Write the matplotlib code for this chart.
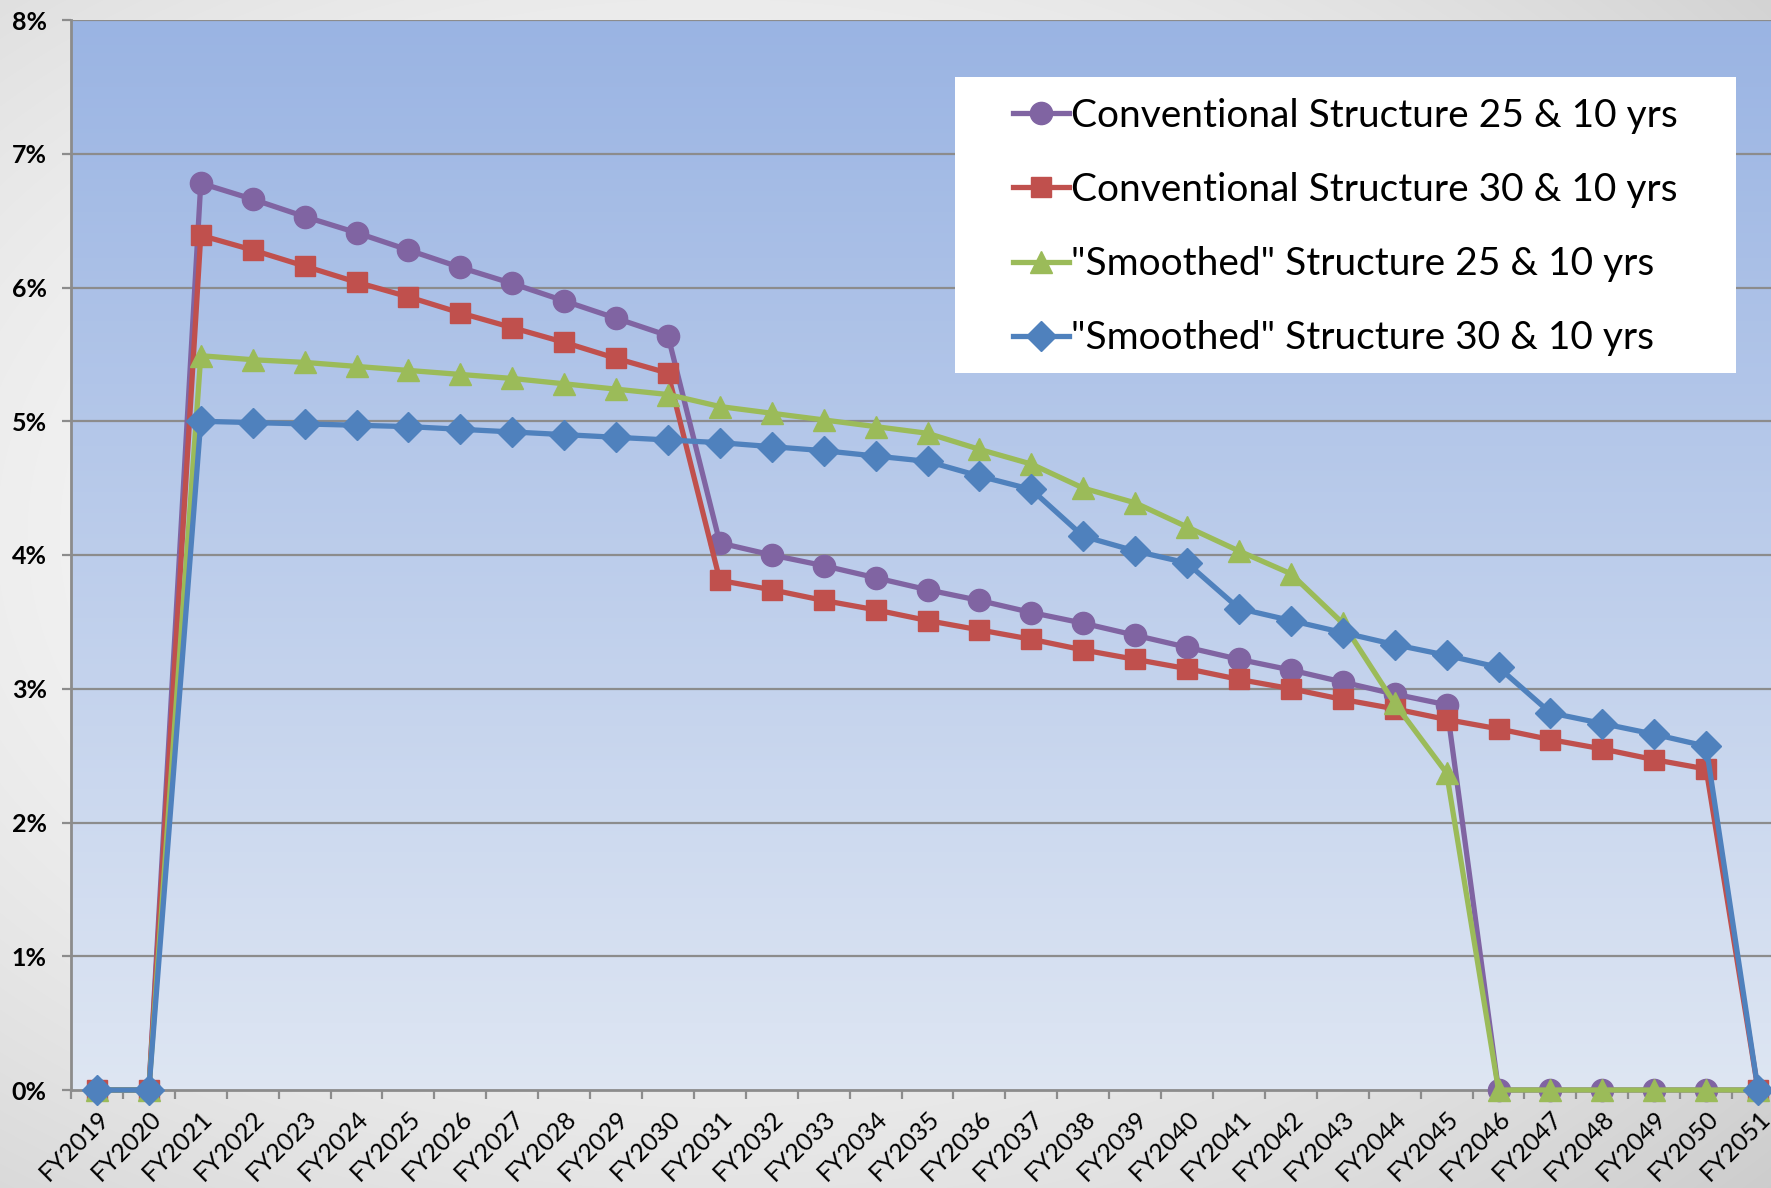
import numpy as np
import matplotlib
matplotlib.use("Agg")
import matplotlib.pyplot as plt
from matplotlib.lines import Line2D
from matplotlib.patches import Rectangle
from matplotlib.colors import to_rgb
from matplotlib.transforms import ScaledTranslation

plt.rcParams["font.family"] = ["Lato", "DejaVu Sans"]

# ---- data -------------------------------------------------------------
fiscal_years = ["FY2019", "FY2020", "FY2021", "FY2022", "FY2023", "FY2024", "FY2025",
                "FY2026", "FY2027", "FY2028", "FY2029", "FY2030", "FY2031", "FY2032",
                "FY2033", "FY2034", "FY2035", "FY2036", "FY2037", "FY2038", "FY2039",
                "FY2040", "FY2041", "FY2042", "FY2043", "FY2044", "FY2045", "FY2046",
                "FY2047", "FY2048", "FY2049", "FY2050", "FY2051"]

conventional_25 = [0, 0, 6.78, 6.66, 6.53, 6.41, 6.28, 6.15, 6.03, 5.90, 5.77, 5.64,
                   4.09, 4.00, 3.92, 3.83, 3.74, 3.66, 3.57, 3.49, 3.40, 3.31, 3.22,
                   3.14, 3.05, 2.96, 2.88, 0, 0, 0, 0, 0, 0]
conventional_30 = [0, 0, 6.39, 6.28, 6.16, 6.04, 5.93, 5.81, 5.70, 5.59, 5.47, 5.36,
                   3.81, 3.74, 3.66, 3.59, 3.51, 3.44, 3.37, 3.29, 3.22, 3.15, 3.07,
                   3.00, 2.92, 2.85, 2.77, 2.70, 2.62, 2.55, 2.47, 2.40, 0]
smoothed_25 = [0, 0, 5.49, 5.46, 5.44, 5.41, 5.38, 5.35, 5.32, 5.28, 5.24, 5.20,
               5.11, 5.06, 5.01, 4.96, 4.91, 4.79, 4.68, 4.50, 4.39, 4.21, 4.03,
               3.86, 3.49, 2.89, 2.37, 0, 0, 0, 0, 0, 0]
smoothed_30 = [0, 0, 5.00, 4.99, 4.98, 4.97, 4.96, 4.94, 4.92, 4.90, 4.88, 4.86,
               4.84, 4.81, 4.78, 4.74, 4.70, 4.59, 4.49, 4.14, 4.03, 3.94, 3.60,
               3.51, 3.42, 3.33, 3.25, 3.16, 2.82, 2.74, 2.66, 2.57, 0]

series_labels = ["Conventional Structure 25 & 10 yrs",
                 "Conventional Structure 30 & 10 yrs",
                 "\"Smoothed\" Structure 25 & 10 yrs",
                 "\"Smoothed\" Structure 30 & 10 yrs"]
y_ticks = [0, 1, 2, 3, 4, 5, 6, 7, 8]

# ---- styling ------------------------------------------------------------
styles = [
    dict(color="#8064A2", marker="o", ms=16),
    dict(color="#C0504D", marker="s", ms=15),
    dict(color="#9BBB59", marker="^", ms=15.5),
    dict(color="#4F81BD", marker="D", ms=15),
]
W, H = 1771, 1188
fig = plt.figure(figsize=(W / 100, H / 100), dpi=100)

# soft grey slide background
bg_ax = fig.add_axes([0, 0, 1, 1], zorder=-10)
yy, xx = np.mgrid[0:H, 0:W]
d = ((xx - 0.40 * W) / (0.85 * W)) ** 2 + ((yy - 0.45 * H) / (0.85 * H)) ** 2
t = np.clip(d, 0, 1) ** 0.9
c_in, c_out = np.array(to_rgb("#FBFBFB")), np.array(to_rgb("#C9C9C9"))
bg = c_in[None, None, :] * (1 - t[..., None]) + c_out[None, None, :] * t[..., None]
bg_ax.imshow(bg, aspect="auto", extent=[0, 1, 0, 1], origin="upper")
bg_ax.axis("off")

# plot area
left, right, top, bottom = 71, 1784, 20, 1090
ax = fig.add_axes([left / W, 1 - bottom / H, (right - left) / W, (bottom - top) / H])
ax.patch.set_alpha(0)

x = np.arange(len(fiscal_years))
ax.set_xlim(-0.5, len(fiscal_years) - 0.5)
ax.set_ylim(0, 8)

# vertical blue gradient fill
top_c, bot_c = np.array(to_rgb("#9AB4E3")), np.array(to_rgb("#DEE6F3"))
s = np.linspace(0, 1, 256)[:, None, None]
grad = top_c[None, None, :] * (1 - s) + bot_c[None, None, :] * s
ax.imshow(grad, aspect="auto", extent=[-0.5, len(fiscal_years) - 0.5, 0, 8],
          origin="upper", zorder=0)

# gridlines
for v in y_ticks[1:]:
    ax.axhline(v, color="#8C8C8C", lw=1.6, zorder=1)

for vals, st in zip([conventional_25, conventional_30, smoothed_25, smoothed_30], styles):
    ax.plot(x, vals, color=st["color"], lw=3.8, marker=st["marker"], ms=st["ms"],
            mec=st["color"], mfc=st["color"], clip_on=False, zorder=3)

# axes / ticks
for sp in ["top", "right"]:
    ax.spines[sp].set_visible(False)
for sp in ["left", "bottom"]:
    ax.spines[sp].set_color("#8C8C8C")
    ax.spines[sp].set_linewidth(2)
    ax.spines[sp].set_zorder(2)

ax.set_yticks(y_ticks)
ax.set_yticklabels([f"{v}%" for v in y_ticks], fontsize=18, fontweight="bold")
ax.tick_params(axis="y", length=6.5, width=1.6, color="#8C8C8C", pad=11)

ax.set_xticks(x)
ax.set_xticklabels(fiscal_years, rotation=45, ha="right", rotation_mode="anchor",
                   fontsize=18)
shift = ScaledTranslation(-5 / 100, 0, fig.dpi_scale_trans)
for lbl in ax.get_xticklabels():
    lbl.set_transform(lbl.get_transform() + shift)
ax.set_xticks(np.arange(-0.5, len(fiscal_years)), minor=True)
ax.tick_params(axis="x", which="major", length=0, pad=12)
ax.tick_params(axis="x", which="minor", length=6.5, width=1.6, color="#8C8C8C")

# legend on a white panel
ax.add_patch(Rectangle((955 / W, 1 - 373 / H), 781 / W, 296 / H,
                       transform=fig.transFigure, facecolor="white",
                       edgecolor="none", zorder=4, clip_on=False))
handles = [Line2D([], [], color=st["color"], lw=3.8, marker=st["marker"],
                  ms=st["ms"], mec=st["color"], mfc=st["color"]) for st in styles]
leg = ax.legend(handles, series_labels, loc="upper left",
                bbox_to_anchor=(1013 / W, 1 - 98 / H), bbox_transform=fig.transFigure,
                frameon=False, borderpad=0, borderaxespad=0, handlelength=1.45,
                handletextpad=0.05, labelspacing=0.98, fontsize=28)
leg.set_zorder(5)

fig.savefig("out.png", dpi=100)
